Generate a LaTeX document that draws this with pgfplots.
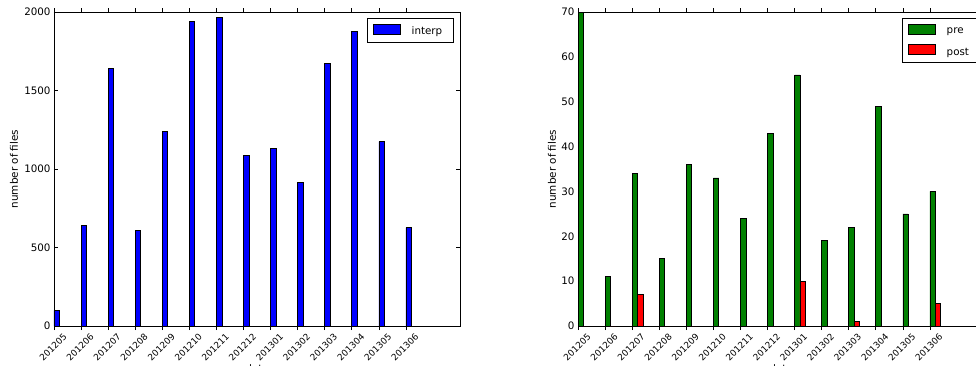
\documentclass[border=0pt]{standalone}
\usepackage{pgfplots}
\pgfplotsset{compat=1.18}
\usepackage{fontspec}
\setmainfont{DejaVu Sans}
\definecolor{mplgreen}{RGB}{0,128,0}
\definecolor{mplblue}{RGB}{0,0,255}
\definecolor{mplred}{RGB}{255,0,0}
\newcommand\bigf{\fontsize{10.3}{12}\selectfont}
\newcommand\smallf{\fontsize{8.9}{10.5}\selectfont}
\newcommand\labf{\fontsize{10.4}{12}\selectfont}

\pgfplotstableread{
x y
0 100
1 641
2 1639
3 609
4 1242
5 1942
6 1966
7 1085
8 1133
9 917
10 1671
11 1876
12 1175
13 626
}\interp
\pgfplotstableread{
x y
0 70
1 11
2 34
3 15
4 36
5 33
6 24
7 43
8 56
9 19
10 22
11 49
12 25
13 30
}\pre
\pgfplotstableread{
x y
0 0
1 0
2 7
3 0
4 0
5 0
6 0
7 0
8 10
9 0
10 1
11 0
12 0
13 5
}\post

\pgfplotsset{
  mplbase/.style={
    scale only axis, width=406pt, height=314pt, anchor=south west,
    xmin=0, xmax=15, ymin=0,
    xtick={0,...,13},
    xticklabels={201205,201206,201207,201208,201209,201210,201211,201212,201301,201302,201303,201304,201305,201306},
    tick align=inside, major tick length=4pt,
    tick style={black, line width=0.6pt},
    axis line style={black, line width=0.8pt},
    /pgf/number format/assume math mode=true,
    /pgf/number format/1000 sep={},
    xticklabel style={font=\smallf, yshift=-17.5pt, xshift=-1pt, rotate=45, anchor=center, inner sep=0pt},
    yticklabel style={font=\bigf},
    ylabel={number of files},
    ylabel style={font=\labf, at={(axis description cs:0,0.5)}, anchor=center},
    xlabel={date},
    xlabel style={font=\labf, at={(axis description cs:0.5,0)}, anchor=north, yshift=-38.5pt, inner sep=0pt},
    legend style={font=\bigf, draw=black, line width=0.6pt, anchor=north east,
      inner xsep=6pt, inner ysep=5.5pt, nodes={inner sep=0pt}, row sep=8.7pt, cells={anchor=west}},
    ybar, bar width=0.2,
  },
  mplleg/.style={legend image code/.code={\draw[##1, line width=0.6pt] (0pt,-2.3pt) rectangle (27pt,7.7pt); \path (38pt,0pt);}},
}

\begin{document}
\begin{tikzpicture}[x=1pt,y=1pt]
\path[use as bounding box] (0,0) rectangle (976,365);
\clip (0,0) rectangle (976,365);
\begin{axis}[mplbase, at={(54pt,39pt)}, ymax=2000, ytick={0,500,1000,1500,2000},
  ylabel style={yshift=40pt},
  legend style={at={(rel axis cs:1,1)}, xshift=-6pt, yshift=-6pt}]
\addplot[fill=mplblue, draw=black, line width=0.6pt, bar shift=0.1, mplleg] table[x=x,y=y]{\interp};
\addlegendentry{\makebox[36pt][l]{interp}}
\end{axis}
\begin{axis}[mplbase, at={(578pt,39pt)}, ymax=70, ytick={0,10,20,30,40,50,60,70},
  ylabel style={yshift=26pt},
  legend style={at={(rel axis cs:1,1)}, xshift=-6pt, yshift=-6pt}]
\addplot[fill=mplgreen, draw=black, line width=0.6pt, bar shift=0.1, mplleg] table[x=x,y=y]{\pre};
\addlegendentry{\makebox[25pt][l]{pre}}
\addplot[fill=mplred, draw=black, line width=0.6pt, bar shift=0.3, mplleg] table[x=x,y=y]{\post};
\addlegendentry{\makebox[25pt][l]{post}}
\end{axis}
\end{tikzpicture}
\end{document}
